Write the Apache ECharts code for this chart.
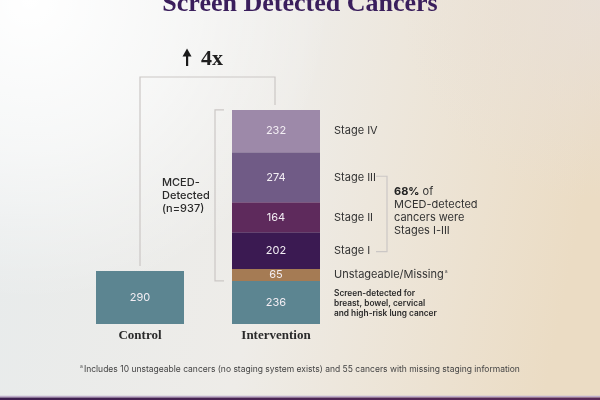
<!DOCTYPE html>
<html><head><meta charset="utf-8">
<script src="https://cdn.jsdelivr.net/npm/echarts@6/dist/echarts.min.js"></script>
<style>html,body{margin:0;padding:0;}#c{width:600px;height:400px;}</style>
</head><body><div id="c"></div>
<script>
const categories = ['Control', 'Intervention'];
const screenDetected = [290, 236];
const unstageable = ['-', 65];
const stageI = ['-', 202];
const stageII = ['-', 164];
const stageIII = ['-', 274];
const stageIV = ['-', 232];
const segmentNames = ['Screen-detected', 'Unstageable/Missing', 'Stage I', 'Stage II', 'Stage III', 'Stage IV'];
const segmentData = [screenDetected, unstageable, stageI, stageII, stageIII, stageIV];
const segmentColors = ['#5c8591', '#a57b54', '#3b1a52', '#5e2a5c', '#705b86', '#9d89a9'];

const chart = echarts.init(document.getElementById('c'));
const sans = 'Inter, "Noto Sans", sans-serif';
const serif = '"Liberation Serif", "DejaVu Serif", serif';

const series = segmentData.map((d, i) => ({
  name: segmentNames[i], type: 'bar', stack: 'total', barWidth: 88,
  data: d, itemStyle: { color: segmentColors[i] },
  label: { show: true, position: 'inside', color: '#f3eef4', fontSize: 11, fontFamily: sans },
  emphasis: { disabled: true }, animation: false
}));

chart.setOption({
  animation: false,
  backgroundColor: {
    type: 'linear', x: 0, y: 0, x2: 1, y2: 0.3,
    colorStops: [{ offset: 0, color: '#e7ebec' }, { offset: 0.5, color: '#eeece8' }, { offset: 1, color: '#ebdcc4' }]
  },
  grid: { left: 72, width: 272, top: 105, height: 219 },
  xAxis: {
    type: 'category', data: categories,
    axisLine: { show: false }, axisTick: { show: false },
    axisLabel: { margin: 5, fontFamily: serif, fontWeight: 'bold', fontSize: 13, color: '#2a2a2a' }
  },
  yAxis: { type: 'value', min: 0, max: 1200, show: false, splitLine: { show: false } },
  series: series
});

function px(cat, val) { return chart.convertToPixel({ xAxisIndex: 0, yAxisIndex: 0 }, [cat, val]); }
const iv = 1;
const cums = [];
let acc = 0;
segmentData.forEach(d => { cums.push([acc, acc + d[iv]]); acc += d[iv]; });
const mid = k => px('Intervention', (cums[k][0] + cums[k][1]) / 2)[1];
const ctrlTop = px('Control', screenDetected[0]);
const intTop = px('Intervention', acc);
const intX = intTop[0];
const ctrlX = ctrlTop[0];
const screenTopY = px('Intervention', cums[0][1])[1];
const lineStyle = { stroke: '#cbc7c5', lineWidth: 1.2, fill: null };

const graphics = [
  { type: 'rect', shape: { x: 0, y: 0, width: 600, height: 400 }, z: -10, silent: true,
    style: { fill: { type: 'radial', x: 0.05, y: 0.0, r: 0.75,
      colorStops: [{ offset: 0, color: 'rgba(255,255,255,1)' }, { offset: 0.5, color: 'rgba(255,255,255,0.6)' }, { offset: 1, color: 'rgba(255,255,255,0)' }] } } },
  { type: 'rect', shape: { x: 0, y: 0, width: 600, height: 400 }, z: -9, silent: true,
    style: { fill: { type: 'radial', x: 1, y: 0, r: 0.5,
      colorStops: [{ offset: 0, color: 'rgba(232,224,218,0.8)' }, { offset: 1, color: 'rgba(232,224,218,0)' }] } } },
  { type: 'text', x: 300, y: 4, style: { text: 'Screen Detected Cancers', font: 'bold 26px ' + serif, fill: '#3a1e5c', textAlign: 'center', textVerticalAlign: 'middle' } },
  // connector
  { type: 'polyline', shape: { points: [[ctrlX, ctrlTop[1] - 5], [ctrlX, 77], [intX - 1, 77], [intX - 1, intTop[1] - 5]] }, style: lineStyle },
  // arrow 4x
  { type: 'rect', shape: { x: 186, y: 54, width: 2.2, height: 12 }, style: { fill: '#1a1a1a' } },
  { type: 'polygon', shape: { points: [[182.5, 56.5], [191.5, 56.5], [187, 48.5]] }, style: { fill: '#1a1a1a' } },
  { type: 'text', x: 201, y: 59, style: { text: '4x', font: 'bold 22px ' + serif, fill: '#1f1f1f', textVerticalAlign: 'middle' } },
  // left bracket
  { type: 'polyline', shape: { points: [[224, intTop[1]], [215, intTop[1]], [215, screenTopY], [224, screenTopY]] }, style: lineStyle },
  { type: 'text', x: 162, y: 196, style: { text: 'MCED-\nDetected\n(n=937)', font: '500 11px ' + sans, fill: '#2a2a2a', lineHeight: 13, textVerticalAlign: 'middle' } },
  // right labels
  { type: 'text', x: 334, y: mid(5), style: { text: 'Stage IV', font: '11px ' + sans, fill: '#333', textVerticalAlign: 'middle' } },
  { type: 'text', x: 334, y: mid(4), style: { text: 'Stage III', font: '11px ' + sans, fill: '#333', textVerticalAlign: 'middle' } },
  { type: 'text', x: 334, y: mid(3), style: { text: 'Stage II', font: '11px ' + sans, fill: '#333', textVerticalAlign: 'middle' } },
  { type: 'text', x: 334, y: mid(2), style: { text: 'Stage I', font: '11px ' + sans, fill: '#333', textVerticalAlign: 'middle' } },
  { type: 'text', x: 334, y: mid(1), style: { text: 'Unstageable/Missing{s|a}', rich: { s: { fontSize: 5, verticalAlign: 'top', fill: '#555', padding: [0, 0, 6, 1] } }, font: '11px ' + sans, fill: '#333', textVerticalAlign: 'middle' } },
  { type: 'text', x: 334, y: mid(0) + 1, style: { text: 'Screen-detected for\nbreast, bowel, cervical\nand high-risk lung cancer', font: '600 8.3px ' + sans, fill: '#2a2a2a', lineHeight: 10, textVerticalAlign: 'middle' } },
  // right bracket
  { type: 'polyline', shape: { points: [[376, mid(4) - 1], [387, mid(4) - 1], [387, mid(2) + 1], [376, mid(2) + 1]] }, style: lineStyle },
  { type: 'text', x: 394, y: 211, style: { text: '{b|68%} of\nMCED-detected\ncancers were\nStages I-III', rich: { b: { fontWeight: 'bold', fontSize: 11, fontFamily: sans, fill: '#222' } }, font: '11px ' + sans, fill: '#333', lineHeight: 13, textVerticalAlign: 'middle' } },
  // footnote
  { type: 'text', x: 300, y: 369, style: { text: '{s|a}Includes 10 unstageable cancers (no staging system exists) and 55 cancers with missing staging information', rich: { s: { fontSize: 5, padding: [0, 1, 5, 0], fill: '#555' } }, font: '8.5px ' + sans, fill: '#444', textAlign: 'center', textVerticalAlign: 'middle' } },
  // bottom strip
  { type: 'rect', shape: { x: 0, y: 395.7, width: 600, height: 1.8 }, style: { fill: '#bfaecb' } },
  { type: 'rect', shape: { x: 0, y: 397.4, width: 600, height: 3 }, style: { fill: { type: 'linear', x: 0, y: 0, x2: 1, y2: 0, colorStops: [{ offset: 0, color: '#3d1e4f' }, { offset: 1, color: '#5a2a58' }] } } }
];
chart.setOption({ graphic: graphics });
</script></body></html>
